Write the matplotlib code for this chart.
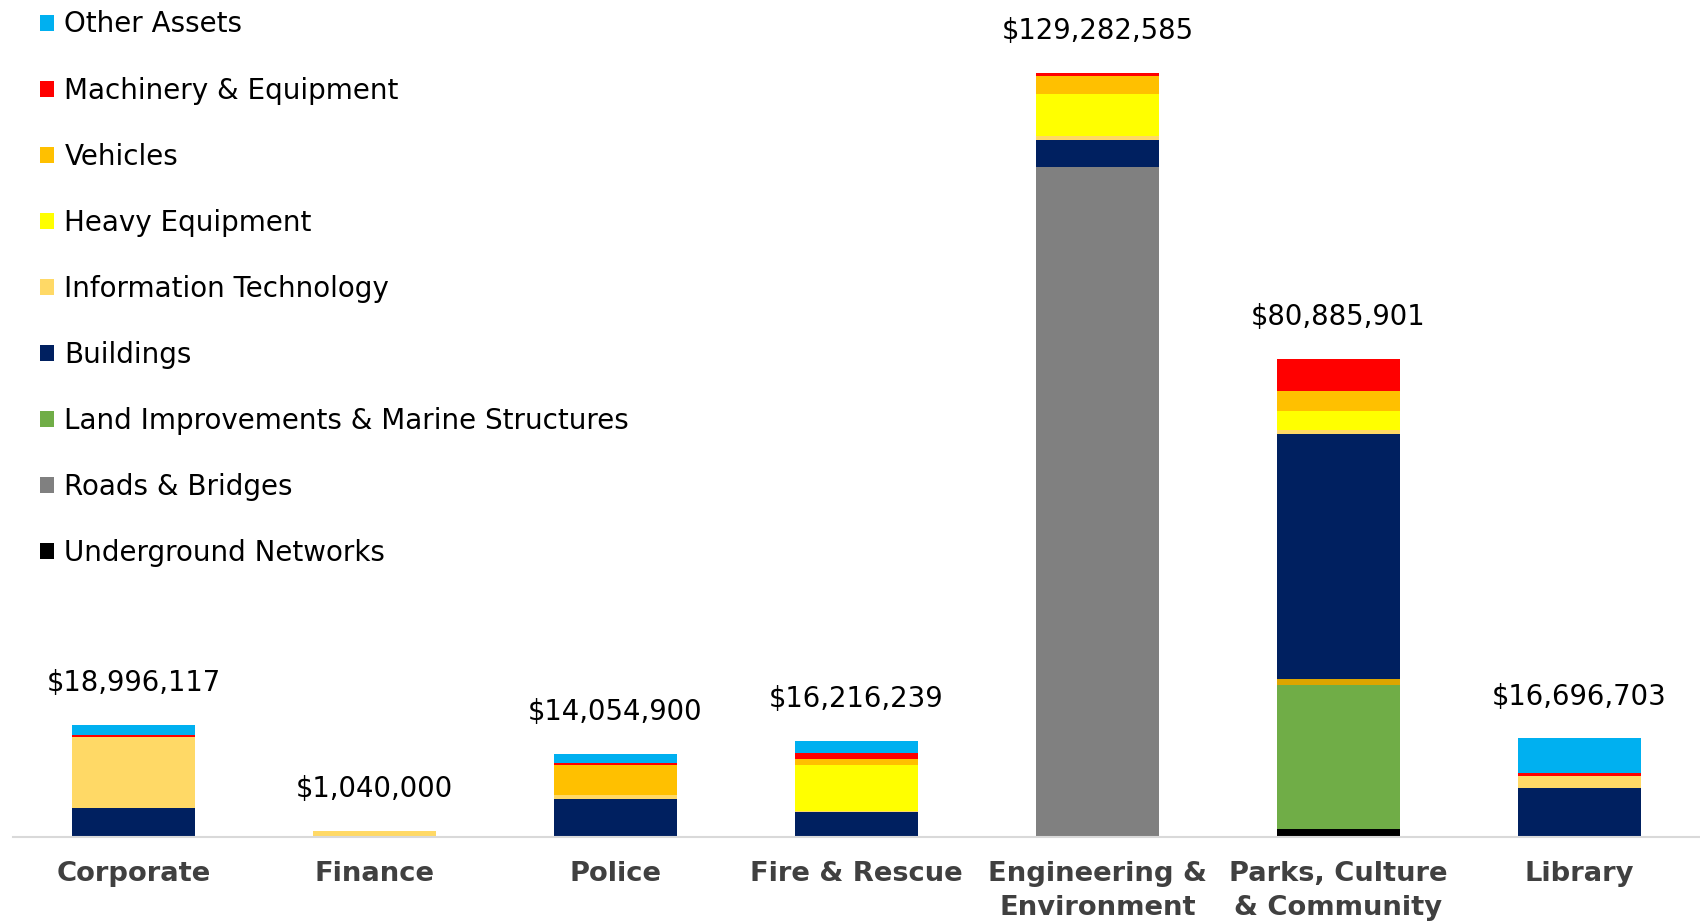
import matplotlib.pyplot as plt
import numpy as np

departments = ['Corporate', 'Finance', 'Police', 'Fire & Rescue',
               'Engineering &\nEnvironment', 'Parks, Culture\n& Community', 'Library']

# asset values per department ($), bottom of the stack first
underground = [0, 0, 0, 0, 0, 1320000, 0]
roads = [0, 0, 0, 0, 113400000, 0, 0]
land_marine = [0, 0, 0, 0, 0, 24400000, 0]
land_edge = [0, 0, 0, 0, 0, 1000000, 0]
buildings = [4900000, 0, 6430000, 4230000, 4570000, 41400000, 8350000]
info_tech = [12000000, 1040000, 600000, 200000, 680000, 800000, 1930000]
heavy_equip = [0, 0, 0, 7750000, 7050000, 3100000, 0]
vehicles = [0, 0, 5200000, 950000, 3000000, 3390000, 0]
machinery = [300000, 0, 300000, 1120000, 582585, 5475901, 620000]
other_assets = [1796117, 0, 1524900, 1966239, 0, 0, 5796703]

series = [
    ('Underground Networks', underground, '#000000'),
    ('Roads & Bridges', roads, '#808080'),
    ('Land Improvements & Marine Structures', land_marine, '#70AD47'),
    (None, land_edge, '#DDA500'),
    ('Buildings', buildings, '#002060'),
    ('Information Technology', info_tech, '#FFD966'),
    ('Heavy Equipment', heavy_equip, '#FFFF00'),
    ('Vehicles', vehicles, '#FFC000'),
    ('Machinery & Equipment', machinery, '#FF0000'),
    ('Other Assets', other_assets, '#00B0F0'),
]

fig = plt.figure(figsize=(17, 9.23), dpi=100)
ax = fig.add_axes([13 / 1700, 86 / 923, 1 - 13 / 1700, 1 - 86 / 923])

x = np.arange(len(departments))
bottom = np.zeros(len(departments))
handles = []
for name, vals, color in series:
    vals = np.array(vals, dtype=float)
    b = ax.bar(x, vals, width=0.51, bottom=bottom, color=color, edgecolor='none')
    if name is not None:
        handles.append((b, name))
    bottom += vals

# total value above each stack
totals = bottom
for xi, t in zip(x, totals):
    ax.annotate(f'${t:,.0f}', (xi, t), xytext=(0, 30), textcoords='offset points',
                ha='center', va='center', fontsize=19.8, color='black')

ax.set_xlim(-0.5, 6.5)
ax.set_ylim(0, 141.6e6)
ax.set_xticks(x)
ax.set_xticklabels(departments, fontsize=19.7, fontweight='bold', color='#404040',
                   linespacing=1.36)
ax.tick_params(axis='x', length=0, pad=17.5)
ax.set_yticks([])
for s in ['top', 'left', 'right']:
    ax.spines[s].set_visible(False)
ax.spines['bottom'].set_color('#d9d9d9')
ax.spines['bottom'].set_linewidth(1.5)

handles = handles[::-1]
fig.legend([h for h, _ in handles], [n for _, n in handles],
           loc='upper left', bbox_to_anchor=(40 / 1700, 1 - 10.5 / 923),
           frameon=False, fontsize=20, handlelength=0.5, handleheight=0.5,
           handletextpad=0.38, labelspacing=1.37, borderpad=0, borderaxespad=0)

fig.savefig('out.png', dpi=100)
